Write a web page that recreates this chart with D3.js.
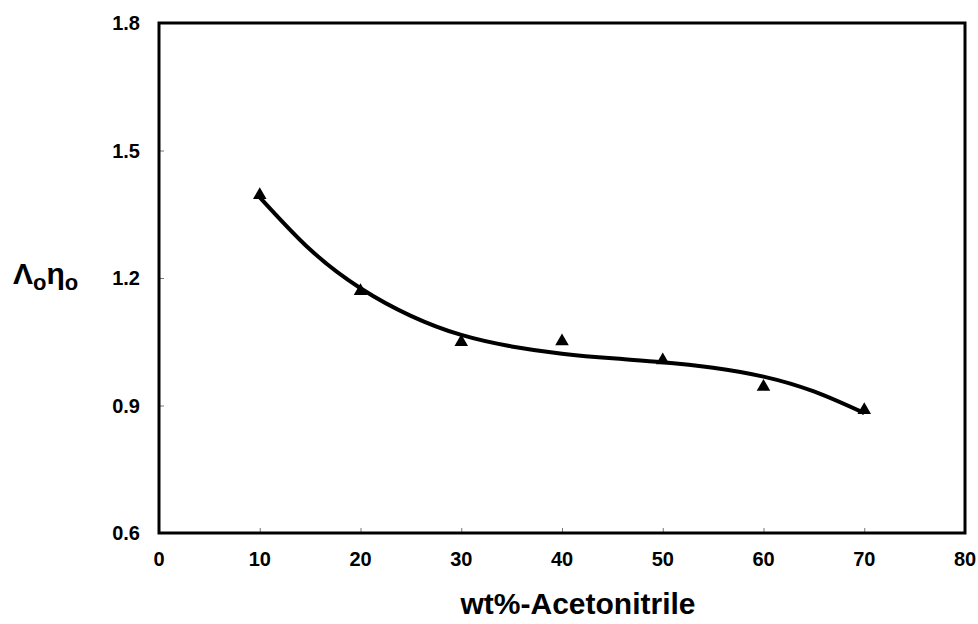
<!DOCTYPE html>
<html>
<head>
<meta charset="utf-8">
<script src="https://cdn.jsdelivr.net/npm/d3@7"></script>
<style>
  body { margin: 0; background: #fff; }
  text { font-family: "Liberation Sans", Arial, sans-serif; font-weight: bold; fill: #000; }
</style>
</head>
<body>
<div id="chart"></div>
<script>
// measured points (triangles)
const wtPct = [10, 20, 30, 40, 50, 60, 70];
const lambdaEta = [1.395, 1.169, 1.049, 1.051, 1.006, 0.944, 0.889];

// trend line
const trendX = [10, 15, 20, 25, 30, 35, 40, 45, 50, 55, 60, 65, 70];
const trendY = [1.39, 1.267, 1.176, 1.111, 1.066, 1.039, 1.022, 1.011, 1.002, 0.989, 0.968, 0.933, 0.882];

const xTicks = [0, 10, 20, 30, 40, 50, 60, 70, 80];
const yTicks = [0.6, 0.9, 1.2, 1.5, 1.8];

const width = 978, height = 624;
const plotL = 159, plotR = 965, plotT = 23, plotB = 533;

const svg = d3.select("#chart").append("svg")
    .attr("width", width).attr("height", height);

const x = d3.scaleLinear().domain([0, 80]).range([plotL, plotR]);
const y = d3.scaleLinear().domain([0.6, 1.8]).range([plotB, plotT]);

// tick marks inside the frame
svg.append("g")
    .attr("transform", `translate(0,${plotB})`)
    .call(d3.axisTop(x).tickValues(xTicks.slice(1, -1)).tickSize(5).tickFormat(""))
    .call(g => g.select(".domain").remove())
    .call(g => g.selectAll("line").attr("stroke", "#777"));

svg.append("g")
    .attr("transform", `translate(${plotL},0)`)
    .call(d3.axisRight(y).tickValues(yTicks.slice(1, -1)).tickSize(5).tickFormat(""))
    .call(g => g.select(".domain").remove())
    .call(g => g.selectAll("line").attr("stroke", "#777"));

// frame
svg.append("rect")
    .attr("x", plotL).attr("y", plotT)
    .attr("width", plotR - plotL).attr("height", plotB - plotT)
    .attr("fill", "none").attr("stroke", "#000").attr("stroke-width", 3);

// tick labels
svg.append("g").selectAll("text").data(xTicks).enter().append("text")
    .attr("x", d => x(d)).attr("y", 566)
    .attr("text-anchor", "middle").style("font-size", "20px")
    .text(d => d);

svg.append("g").selectAll("text").data(yTicks).enter().append("text")
    .attr("x", 140).attr("y", d => y(d) + 7)
    .attr("text-anchor", "end").style("font-size", "20px")
    .text(d => d.toFixed(1));

// trend curve
const line = d3.line()
    .x((d, i) => x(trendX[i]))
    .y(d => y(d))
    .curve(d3.curveNatural);

svg.append("path")
    .datum(trendY)
    .attr("d", line)
    .attr("fill", "none")
    .attr("stroke", "#000")
    .attr("stroke-width", 4);

// triangles
const tri = d3.symbol().type(d3.symbolTriangle).size(80);
svg.append("g").selectAll("path").data(wtPct).enter().append("path")
    .attr("d", tri)
    .attr("transform", (d, i) => `translate(${x(d)},${y(lambdaEta[i])})`)
    .attr("fill", "#000");

// axis titles
svg.append("text")
    .attr("x", 578).attr("y", 614)
    .attr("text-anchor", "middle").style("font-size", "30px")
    .text("wt%-Acetonitrile");

const yl = svg.append("text")
    .attr("x", 13).attr("y", 284)
    .style("font-size", "30px");
yl.append("tspan").text("Λ");
yl.append("tspan").attr("dy", 6).style("font-size", "22px").text("o");
yl.append("tspan").attr("dy", -6).text("η");
yl.append("tspan").attr("dy", 6).style("font-size", "22px").text("o");
</script>
</body>
</html>
